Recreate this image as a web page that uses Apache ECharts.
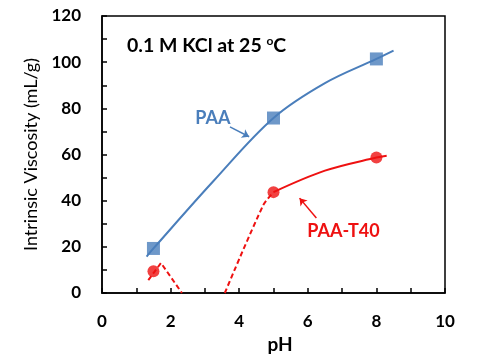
<!DOCTYPE html>
<html><head><meta charset="utf-8">
<script src="https://cdn.jsdelivr.net/npm/echarts@6/dist/echarts.min.js"></script>
<style>html,body{margin:0;padding:0;background:#fff}#c{width:500px;height:364px}</style>
</head><body><div id="c"></div>
<script>
const FONT = 'Lato';
const BLUE = '#4a7ebb';
const RED = '#ee1111';
// measured points
const paaPH = [1.5, 5, 8];
const paaVisc = [19.3, 75.8, 101.4];
const t40PH = [1.5, 5, 8];
const t40Visc = [9.4, 43.7, 58.7];
// trend curves
const paaTrend = [[1.3, 15.8], [1.5, 19.3], [3.25, 48.5], [5, 75.8], [6.5, 90.9], [8, 101.4], [8.5, 105]];
const t40Solid = [[5, 43.7], [6.5, 53], [8, 58.7], [8.3, 59.5]];
const t40Dash1 = [[1.35, 5.6], [1.72, 13], [2.33, 0]];
const t40Dash2 = [[3.58, 0], [4.7, 38], [5, 43.7]];
const xTicks = {min: 0, max: 10, interval: 2};
const yTicks = {min: 0, max: 120, interval: 20};

const chart = echarts.init(document.getElementById('c'));
const zip = (a, b) => a.map((v, i) => [v, b[i]]);
const tickStyle = {color: '#000', width: 1.5};
chart.setOption({
  animation: false,
  grid: {left: 102, right: 55, top: 16, bottom: 71, show: true, borderColor: '#000', borderWidth: 1.5},
  xAxis: {
    type: 'value', min: xTicks.min, max: xTicks.max, interval: xTicks.interval,
    name: 'pH', nameLocation: 'middle', nameGap: 40,
    nameTextStyle: {fontFamily: FONT, fontWeight: 'bold', fontSize: 19, color: '#000', padding: [0, 0, 0, 13]},
    axisLine: {lineStyle: tickStyle},
    axisTick: {inside: true, length: 5, lineStyle: tickStyle},
    minorTick: {show: true, splitNumber: 2, length: 5, lineStyle: tickStyle},
    splitLine: {show: false},
    axisLabel: {fontFamily: FONT, fontWeight: 'bold', fontSize: 17, color: '#000', margin: 20}
  },
  yAxis: {
    type: 'value', min: yTicks.min, max: yTicks.max, interval: yTicks.interval,
    name: 'Intrinsic Viscosity (mL/g)', nameLocation: 'middle', nameGap: 60,
    nameTextStyle: {fontFamily: FONT, fontSize: 18, color: '#000'},
    axisLine: {lineStyle: tickStyle},
    axisTick: {inside: true, length: 5, lineStyle: tickStyle},
    minorTick: {show: true, splitNumber: 2, length: 5, lineStyle: tickStyle},
    splitLine: {show: false},
    axisLabel: {fontFamily: FONT, fontWeight: 'bold', fontSize: 17, color: '#000', margin: 21}
  },
  series: [
    {type: 'line', data: paaTrend, smooth: 0.35, showSymbol: false, lineStyle: {color: BLUE, width: 2}, z: 2,
     markLine: {silent: true, symbol: ['none', 'arrow'], symbolSize: 7, label: {show: false},
       lineStyle: {color: BLUE, width: 1.5, type: 'solid'},
       data: [[{coord: [3.73, 72.0]}, {coord: [4.29, 67.7]}]]},
     markPoint: {symbolSize: 0, data: [{coord: [3.23, 75.8], label: {show: true, formatter: 'PAA', color: BLUE, fontFamily: FONT, fontWeight: 'bold', fontSize: 18, position: 'inside'}}]}
    },
    {type: 'line', data: t40Solid, smooth: 0.35, showSymbol: false, lineStyle: {color: RED, width: 2}, z: 2,
     markLine: {silent: true, symbol: ['none', 'arrow'], symbolSize: 7, label: {show: false},
       lineStyle: {color: RED, width: 1.5, type: 'solid'},
       data: [[{coord: [6.25, 32.5]}, {coord: [5.76, 41.1]}]]},
     markPoint: {symbolSize: 0, data: [{coord: [7.04, 26.7], label: {show: true, formatter: 'PAA-T40', color: RED, fontFamily: FONT, fontWeight: 'bold', fontSize: 18, position: 'inside'}}]}
    },
    {type: 'line', data: t40Dash1, showSymbol: false, lineStyle: {color: RED, width: 2, type: [5, 3]}, z: 2},
    {type: 'line', data: t40Dash2, smooth: 0.3, showSymbol: false, lineStyle: {color: RED, width: 2, type: [5, 3]}, z: 2,
     markPoint: {symbolSize: 0, data: [{coord: [0.73, 107.3], label: {show: true, position: 'right', distance: 0,
       formatter: '0.1 M KCl at 25 {s|o}C', color: '#000', fontFamily: FONT, fontWeight: 'bold', fontSize: 19.5,
       rich: {s: {fontFamily: FONT, fontWeight: 'bold', fontSize: 12, verticalAlign: 'top', padding: [0, 0, 9, 0]}}}}]}
    },
    {type: 'scatter', data: zip(paaPH, paaVisc), symbol: 'rect', symbolSize: 13, itemStyle: {color: BLUE}, z: 3},
    {type: 'scatter', data: zip(t40PH, t40Visc), symbol: 'circle', symbolSize: 12, itemStyle: {color: RED}, z: 3}
  ]
});
</script></body></html>
